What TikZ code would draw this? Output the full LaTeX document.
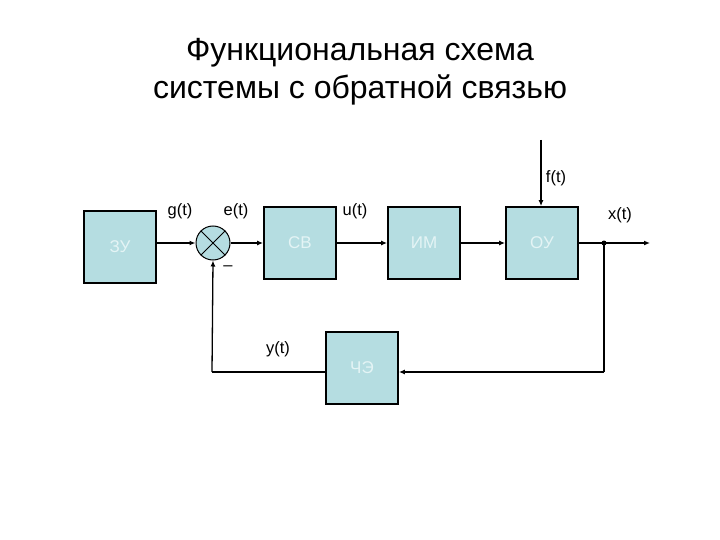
\documentclass[tikz,border=0pt]{standalone}
\usepackage{fontspec}
\setmainfont{Liberation Sans}
\usetikzlibrary{arrows.meta}
\definecolor{boxfill}{RGB}{181,221,225}
\definecolor{boxtext}{RGB}{228,244,245}
\tikzset{
  blk/.style={draw=black, line width=1.8pt, fill=boxfill, minimum width=72pt, minimum height=72pt, inner sep=0pt, text=boxtext, font=\fontsize{17}{19}\selectfont},
  lbl/.style={font=\fontsize{16.5}{18}\selectfont, inner sep=0pt},
  con/.style={line width=1.3pt, -{Latex[length=6pt,width=5pt]}},
  wire/.style={line width=1.3pt},
}
\begin{document}
\begin{tikzpicture}[x=1pt,y=-1pt]
\useasboundingbox (0,0) rectangle (720,540);
\node[font=\fontsize{32}{38}\selectfont, align=center] (title) at (360,72) {Функциональная схема\\системы с обратной связью};
\node[blk] (zu) at (120,247) {ЗУ};
\node[draw=black, line width=1pt, fill=boxfill, circle, minimum size=34pt, inner sep=0pt] (sum) at (213,243) {};
\draw[line width=1pt] (sum.north east) -- (sum.south west) (sum.north west) -- (sum.south east);
\node[blk] (sv) at (300,243) {СВ};
\node[blk] (im) at (424,243) {ИМ};
\node[blk] (ou) at (542,243) {ОУ};
\node[blk] (che) at (362,368) {ЧЭ};
\coordinate (dot) at (604,243);
\coordinate (out) at (650,243);
\coordinate (ftop) at (541,140);
\coordinate (bl) at (212,372);
\coordinate (br) at (604,372);
\fill (dot) circle (2.5pt);
\draw[con] (zu.east |- sum) -- (sum.west);
\draw[con] (sum.east) -- (sv.west);
\draw[con] (sv.east) -- (im.west);
\draw[con] (im.east) -- (ou.west);
\draw[con] (ou.east) -- (out);
\draw[con] (ftop) -- (ftop |- ou.north);
\draw[wire] (dot) -- (br);
\draw[con] (br) -- (che.east |- br);
\draw[wire] (che.west |- bl) -- (bl);
\draw[con] (bl) -- (sum.south);
\node[lbl] (g) at (180,211) {g(t)};
\node[lbl] (e) at (236,211) {e(t)};
\node[lbl] (u) at (355,211) {u(t)};
\node[lbl] (f) at (556,178) {f(t)};
\node[lbl] (x) at (620,215) {x(t)};
\node[lbl] (y) at (278,349) {y(t)};
\node[lbl] (minus) at (228,268) {–};
\end{tikzpicture}
\end{document}
